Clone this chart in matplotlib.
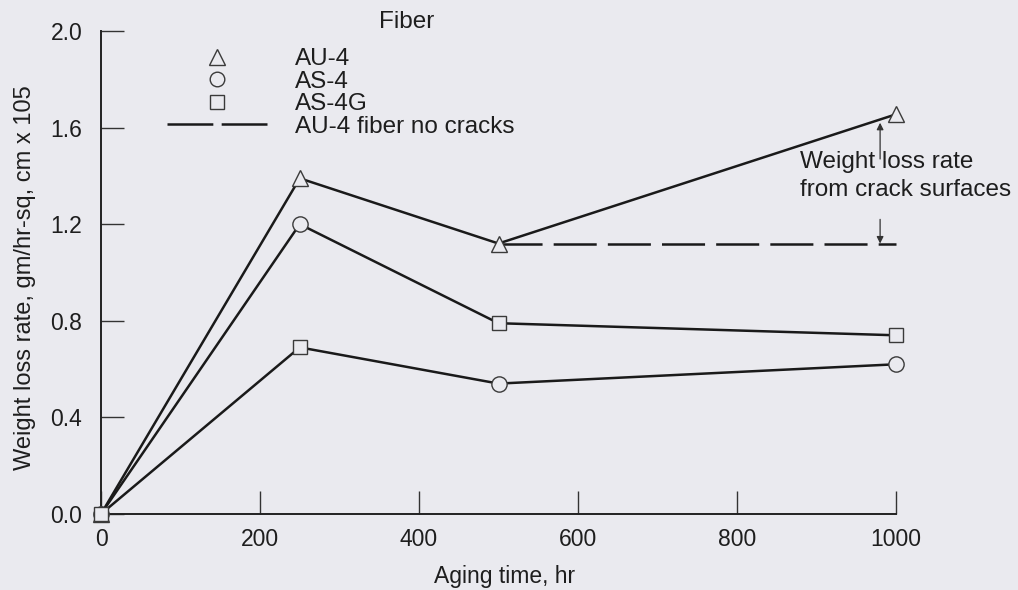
import matplotlib
matplotlib.use("Agg")
import matplotlib.pyplot as plt
from matplotlib.lines import Line2D

plt.rcParams['font.family'] = ['Liberation Sans', 'DejaVu Sans']
plt.rcParams['lines.scale_dashes'] = False

# ---- data ----
hours = [0, 250, 500, 1000]
au4 = [0.0, 1.39, 1.12, 1.655]          # triangles
as4 = [0.0, 1.20, 0.54, 0.62]           # circles
as4g = [0.0, 0.69, 0.79, 0.74]          # squares
nocrack_hours = [500, 1000]
nocrack = [1.12, 1.12]                  # AU-4 fiber no cracks
xticks = [0, 200, 400, 600, 800, 1000]
yticks = [0.0, 0.4, 0.8, 1.2, 1.6, 2.0]
legend_labels = ['AU-4', 'AS-4', 'AS-4G', 'AU-4 fiber no cracks']
arrow_x = 980
arrow_up = (1.47, 1.62)
arrow_down = (1.22, 1.12)

# curves as drawn in the original figure (connections between plotted points)
upper_curve = [as4[0], as4[1], as4g[2], as4g[3]]
lower_curve = [as4g[0], as4g[1], as4[2], as4[3]]

BG = '#eaeaef'
INK = '#1a1a1a'
MEC = '#3a3a3a'
TXT = '#1e1e1e'

W, H = 1018, 590
fig = plt.figure(figsize=(W / 100, H / 100), dpi=100, facecolor=BG)
ax = fig.add_axes([101 / W, 76 / H, 795 / W, 483 / H])
ax.set_facecolor(BG)
ax.set_xlim(0, 1000)
ax.set_ylim(0, 2.0)

lw = 1.8
ax.plot(hours, au4, color=INK, lw=lw, zorder=2, clip_on=False)
ax.plot(hours, upper_curve, color=INK, lw=lw, zorder=2, clip_on=False)
ax.plot(hours, lower_curve, color=INK, lw=lw, zorder=2, clip_on=False)
ax.plot(nocrack_hours, nocrack, color=INK, lw=lw, ls=(0, (31, 8)), zorder=2,
        clip_on=False)

mk = dict(ls='none', mfc=BG, mec=MEC, mew=1.0, zorder=3, clip_on=False)
ax.plot(hours, au4, marker='^', ms=11.5, **mk)
ax.plot(hours, as4, marker='o', ms=11, **mk)
ax.plot(hours, as4g, marker='s', ms=10.5, **mk)

# annotation arrows
for y0, y1 in (arrow_up, arrow_down):
    ax.annotate('', xy=(arrow_x, y1), xytext=(arrow_x, y0),
                arrowprops=dict(arrowstyle='-|>', color='#333333', lw=0.9,
                                mutation_scale=10, shrinkA=0, shrinkB=0),
                annotation_clip=False)
ax.text(800 / W, 1 - 176 / H, 'Weight loss rate\nfrom crack surfaces',
        transform=fig.transFigure, ha='left', va='center',
        multialignment='left', fontsize=17.5, color=TXT, linespacing=1.3)

# axes styling
for s in ['top', 'right']:
    ax.spines[s].set_visible(False)
for s in ['left', 'bottom']:
    ax.spines[s].set_color('#222222')
    ax.spines[s].set_linewidth(1.4)
ax.set_xticks(xticks)
ax.set_xticklabels([str(v) for v in xticks])
ax.set_yticks(yticks)
ax.set_yticklabels([f'{v:.1f}' for v in yticks])
ax.tick_params(axis='y', direction='in', length=16.5, width=1.0, color='#333333',
               pad=13.5, labelsize=16.5, labelcolor=TXT)
ax.tick_params(axis='x', direction='in', length=16.5, width=1.0, color='#333333',
               pad=10, labelsize=16.5, labelcolor=TXT)

ax.set_ylabel('Weight loss rate, gm/hr-sq, cm x 105', fontsize=17,
              color=TXT)
ax.yaxis.set_label_coords(-0.082, 0.49)
ax.set_xlabel('Aging time, hr', fontsize=16.5, color=TXT)
ax.xaxis.set_label_coords(0.508, -0.13)
ax.xaxis.label.set_verticalalignment('center')

# legend
handles = [
    Line2D([], [], ls='none', marker='^', ms=11, mfc=BG, mec=MEC, mew=1.0),
    Line2D([], [], ls='none', marker='o', ms=10.5, mfc=BG, mec=MEC, mew=1.0),
    Line2D([], [], ls='none', marker='s', ms=10, mfc=BG, mec=MEC, mew=1.0),
    Line2D([], [], color=INK, lw=lw, ls=(0, (33, 6))),
]
leg = ax.legend(handles, legend_labels, loc='upper left',
                bbox_to_anchor=(167 / W, 1 - 48 / H),
                bbox_transform=fig.transFigure, frameon=False, fontsize=17.5,
                handlelength=4.15, handletextpad=1.1, borderpad=0,
                borderaxespad=0, labelspacing=0.02, labelcolor=TXT)
fig.text(407 / W, 1 - 22 / H, 'Fiber', ha='center', va='center',
         fontsize=17.5, color=TXT)

fig.savefig('out.png', dpi=100, facecolor=BG)
